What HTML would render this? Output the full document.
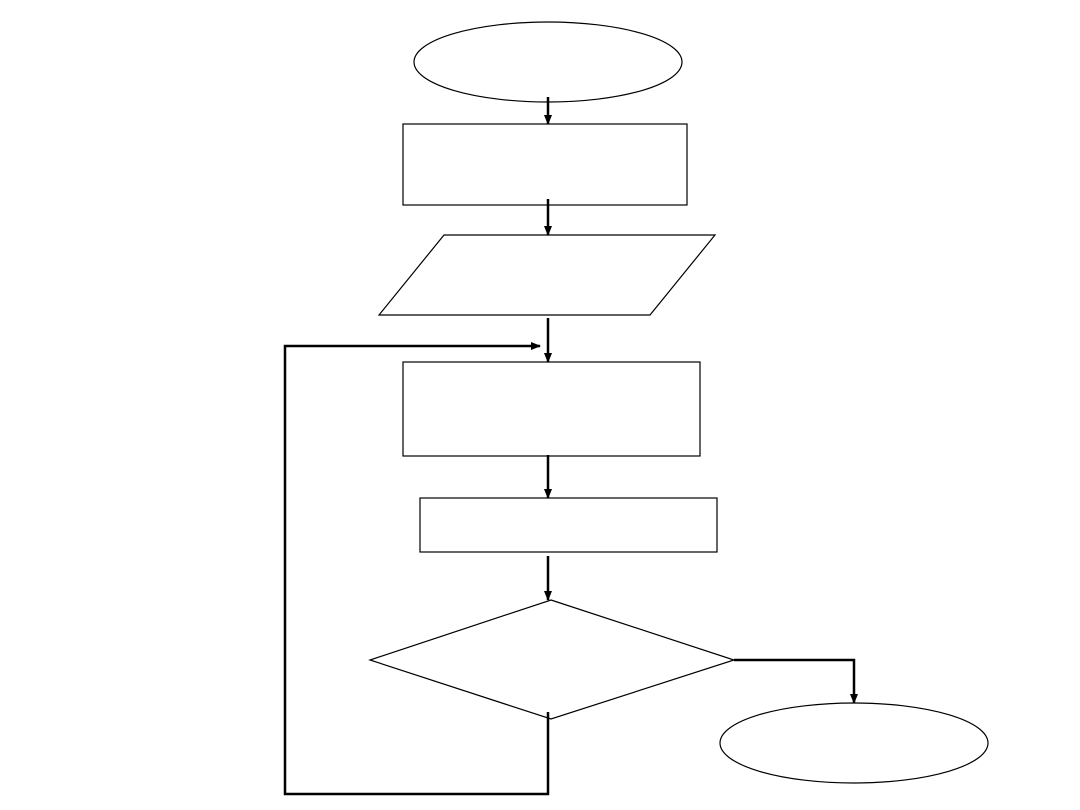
<!DOCTYPE html>
<html><head><style>html,body{margin:0;padding:0;background:#fff}svg{display:block}</style></head>
<body>
<svg width="1080" height="810" viewBox="0 0 1080 810" xmlns="http://www.w3.org/2000/svg">
<defs><marker id="a" markerWidth="10" markerHeight="10" refX="9" refY="5" orient="auto" markerUnits="userSpaceOnUse"><path d="M0,1 L10,5 L0,9 Z" fill="#000"/></marker></defs>
<g fill="none" stroke="#000" stroke-width="1.2">
<ellipse cx="548" cy="62" rx="134" ry="40"/>
<rect x="403" y="124" width="284" height="81"/>
<polygon points="444,235 715,235 650,315 379,315"/>
<rect x="403" y="362" width="297" height="94"/>
<rect x="420" y="498" width="297" height="54"/>
<polygon points="551,600 734,660 551,719 370,660"/>
<ellipse cx="854" cy="743" rx="134" ry="40"/>
</g>
<g fill="none" stroke="#000" stroke-width="2.5" marker-end="url(#a)">
<line x1="548" y1="97" x2="548" y2="124"/>
<line x1="548" y1="199" x2="548" y2="235"/>
<line x1="548" y1="318" x2="548" y2="362"/>
<line x1="548" y1="455" x2="548" y2="498"/>
<line x1="548" y1="556" x2="548" y2="600"/>
<polyline points="734,660 854,660 854,703"/>
<polyline points="548,712 548,794 285,794 285,346 540,346"/>
</g>
</svg>
</body></html>
